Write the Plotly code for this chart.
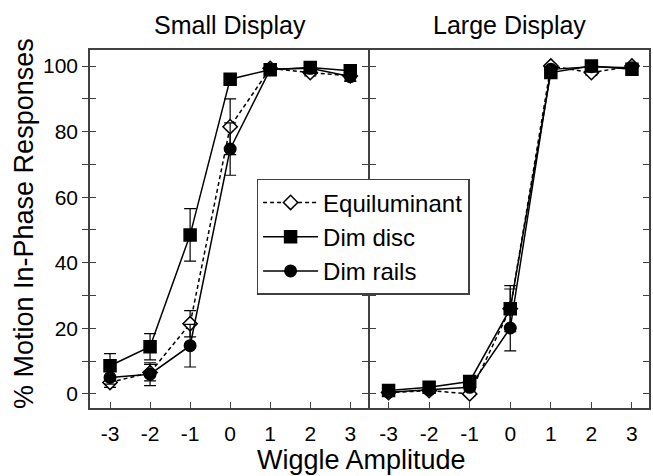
import plotly.graph_objects as go
from plotly.subplots import make_subplots

amplitude = [-3, -2, -1, 0, 1, 2, 3]
amplitude_labels = ["-3", "-2", "-1", "0", "1", "2", "3"]
panel_titles = ["Small Display", "Large Display"]
series_names = ["Equiluminant", "Dim disc", "Dim rails"]

# Small display
small_equi = [3.5, 6.5, 21.4, 81.5, 99.3, 98.0, 97.0]
small_equi_err = [1.5, 2.5, 4.0, 8.5, 1.0, 1.0, 1.5]
small_disc = [8.6, 14.4, 48.5, 96.0, 98.9, 99.6, 98.6]
small_disc_err = [3.7, 4.0, 8.0, 1.5, 1.0, 0.8, 1.0]
small_rails = [5.0, 6.0, 14.7, 74.7, 99.0, 99.3, 96.8]
small_rails_err = [2.0, 3.5, 6.5, 8.0, 1.0, 0.8, 1.5]

# Large display
large_equi = [0.4, 1.0, 0.0, 26.0, 100.0, 98.0, 100.0]
large_equi_err = [0.5, 0.5, 0.5, 6.0, 0.5, 0.8, 0.5]
large_disc = [1.0, 2.0, 3.8, 26.0, 98.0, 100.0, 99.0]
large_disc_err = [0.5, 0.8, 1.0, 7.0, 0.8, 0.5, 0.5]
large_rails = [0.5, 1.2, 2.0, 20.1, 99.0, 99.8, 99.5]
large_rails_err = [0.5, 0.5, 0.8, 7.0, 0.5, 0.5, 0.5]

y_ticks = [0, 10, 20, 30, 40, 50, 60, 70, 80, 90, 100]
y_tick_labels = ["0", "", "20", "", "40", "", "60", "", "80", "", "100"]

FONT = "Liberation Sans, Arial, Helvetica, sans-serif"
LINE = "#404040"
Y_RANGE = [-4.3, 104.9]

fig = make_subplots(rows=1, cols=2, horizontal_spacing=0, shared_yaxes=True,
                    subplot_titles=panel_titles)

styles = [
    dict(symbol="diamond", size=11, dash="4px,3px", fill="white"),
    dict(symbol="square", size=12, dash="solid", fill="black"),
    dict(symbol="circle", size=11.5, dash="solid", fill="black"),
]

panels = [
    [(small_equi, small_equi_err), (small_disc, small_disc_err), (small_rails, small_rails_err)],
    [(large_equi, large_equi_err), (large_disc, large_disc_err), (large_rails, large_rails_err)],
]

for col, panel in enumerate(panels, start=1):
    for i, (vals, errs) in enumerate(panel):
        st = styles[i]
        fig.add_trace(go.Scatter(
            x=amplitude, y=vals, mode="lines+markers", name=series_names[i],
            showlegend=(col == 1),
            line=dict(color="black", width=1.5, dash=st["dash"]),
            marker=dict(symbol=st["symbol"], size=st["size"], color=st["fill"],
                        line=dict(color="black", width=1.5)),
            error_y=dict(type="data", array=errs, color="black", thickness=1.2, width=6),
        ), row=1, col=col)

tickfont = dict(family=FONT, size=21, color="black")
xcommon = dict(showline=True, linecolor=LINE, linewidth=1.5, ticks="inside", ticklen=6,
               tickcolor=LINE, tickwidth=1.2, showgrid=False, zeroline=False, mirror=True,
               tickvals=amplitude, ticktext=amplitude_labels, tickfont=tickfont,
               ticklabelstandoff=6, automargin=False)
fig.update_xaxes(range=[-3.5, 3.48], **xcommon, row=1, col=1)
fig.update_xaxes(range=[-3.47, 3.42], **xcommon, row=1, col=2)

ycommon = dict(showline=True, linecolor=LINE, linewidth=1.5, ticks="outside", ticklen=6,
               tickcolor=LINE, tickwidth=1.2, showgrid=False, zeroline=False,
               tickvals=y_ticks, ticktext=y_tick_labels, tickfont=tickfont, automargin=False)
fig.update_yaxes(range=Y_RANGE, mirror=False, **ycommon, row=1, col=1)
fig.update_yaxes(range=Y_RANGE, mirror=True, showticklabels=False, **ycommon, row=1, col=2)

inside = dict(showline=False, ticks="inside", ticklen=6, tickcolor=LINE, tickwidth=1.2,
              showgrid=False, zeroline=False, showticklabels=False, tickvals=y_ticks,
              range=Y_RANGE, automargin=False)
fig.update_layout(
    yaxis3=dict(overlaying="y", anchor="x", side="left", **inside),
    yaxis4=dict(overlaying="y2", anchor="x2", side="left", **inside),
    yaxis5=dict(overlaying="y2", anchor="x2", side="right", **inside),
)
for ya, xa in [("y3", "x"), ("y4", "x2"), ("y5", "x2")]:
    fig.add_trace(go.Scatter(x=[amplitude[0]], y=[y_ticks[0]], xaxis=xa, yaxis=ya, mode="markers",
                             marker=dict(opacity=0), showlegend=False, hoverinfo="skip"))

for ann in fig.layout.annotations:
    ann.font = dict(family=FONT, size=25, color="black")
    ann.yshift = 9

fig.add_annotation(text="Wiggle Amplitude", xref="paper", yref="paper", x=0.5, y=0,
                   xshift=-8, yshift=-35, yanchor="top", showarrow=False,
                   font=dict(family=FONT, size=27, color="black"))
fig.add_annotation(text="% Motion In-Phase Responses", xref="paper", yref="paper", x=0, y=0.5,
                   xshift=-49, yshift=5, xanchor="right", textangle=-90, showarrow=False,
                   font=dict(family=FONT, size=27, color="black"))

fig.update_layout(
    width=653, height=476,
    margin=dict(l=90, r=4, t=50, b=68),
    paper_bgcolor="white", plot_bgcolor="white",
    font=dict(family=FONT, color="black"),
    legend=dict(x=0.298, y=0.64, xanchor="left", yanchor="top",
                bgcolor="white", bordercolor=LINE, borderwidth=1.5,
                font=dict(family=FONT, size=24, color="black"),
                tracegroupgap=0, itemwidth=55),
)

fig.write_html("out.html", config={"displayModeBar": False},
               post_script="document.body.style.margin='0';")
